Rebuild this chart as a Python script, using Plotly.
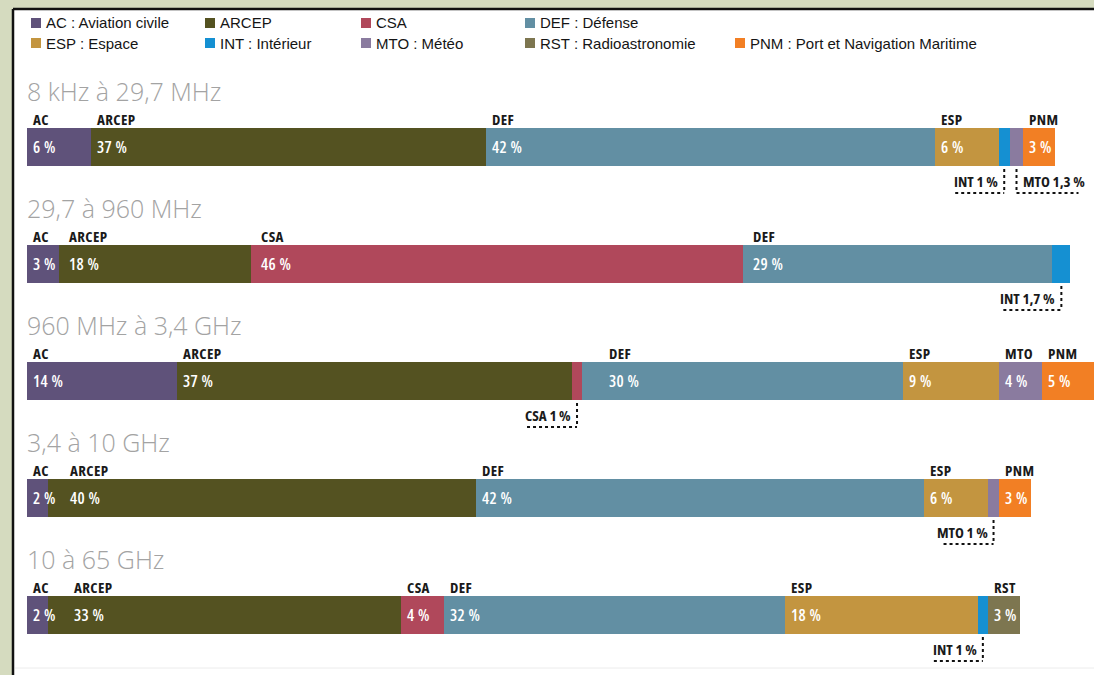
import plotly.graph_objects as go

# ---------------- data ----------------
bands = ["8 kHz à 29,7 MHz", "29,7 à 960 MHz", "960 MHz à 3,4 GHz", "3,4 à 10 GHz", "10 à 65 GHz"]
agencies = ["AC", "ARCEP", "CSA", "DEF", "ESP", "INT", "MTO", "RST", "PNM"]
legend_names = ["AC : Aviation civile", "ARCEP", "CSA", "DEF : Défense", "ESP : Espace",
                "INT : Intérieur", "MTO : Météo", "RST : Radioastronomie",
                "PNM : Port et Navigation Maritime"]
AC = [6, 3, 14, 2, 2]
ARCEP = [37, 18, 37, 40, 33]
CSA = [0, 46, 1, 0, 4]
DEF = [42, 29, 30, 42, 32]
ESP = [6, 0, 9, 6, 18]
INT = [1, 1.7, 0, 0, 1]
MTO = [1.3, 0, 4, 1, 0]
RST = [0, 0, 0, 0, 3]
PNM = [3, 0, 5, 3, 0]
values = {"AC": AC, "ARCEP": ARCEP, "CSA": CSA, "DEF": DEF, "ESP": ESP,
          "INT": INT, "MTO": MTO, "RST": RST, "PNM": PNM}

# ---------------- styles ----------------
colors = {"AC": "#5f527a", "ARCEP": "#545221", "CSA": "#b0485b", "DEF": "#628fa3",
          "ESP": "#c39540", "INT": "#1590d2", "MTO": "#8a7b9f", "RST": "#7d7650",
          "PNM": "#f27f24"}
W, H = 1094, 675
X0 = 27            # pixel where 0 % starts
PX_PER_PCT = 10.68
ROW0, ROW_STEP = 147, 117
label_offset = {(1, "ARCEP"): 8, (1, "CSA"): 8, (1, "DEF"): 8, (2, "DEF"): 25,
                (3, "ARCEP"): 20, (4, "ARCEP"): 24}
callout_right = {(0, "MTO")}
callout_textw = {"INT 1 %": 43, "MTO 1,3 %": 56, "INT 1,7 %": 52, "CSA 1 %": 44, "MTO 1 %": 44}
cond = "Open Sans, Roboto, sans-serif"

def narrow(t, ls=0.4):
    return '<span style="font-stretch:75%;letter-spacing:' + str(ls) + 'px">' + t + '</span>'

def fmt(v):
    return ("%g" % v).replace(".", ",") + " %"

rows = list(range(len(bands)))
fig = go.Figure()
for a in agencies:
    fig.add_trace(go.Bar(orientation="h", y=rows, x=values[a], width=0.325,
                         marker=dict(color=colors[a], line=dict(width=0)),
                         hoverinfo="skip", showlegend=False, name=a))

ann = []
shapes = []
# panel frame
shapes.append(dict(type="rect", xref="paper", yref="paper", x0=0, x1=1, y0=0, y1=1,
                   fillcolor="#d5dbbf", line=dict(width=0), layer="below"))
shapes.append(dict(type="rect", xref="paper", yref="paper", x0=13 / W, x1=1, y0=0,
                   y1=1 - 9 / H, fillcolor="white", line=dict(width=0), layer="below"))
shapes.append(dict(type="line", xref="paper", yref="paper", x0=13 / W, x1=1,
                   y0=1 - 9 / H, y1=1 - 9 / H, line=dict(color="#111", width=2.5), layer="below"))
shapes.append(dict(type="line", xref="paper", yref="paper", x0=13 / W, x1=13 / W,
                   y0=0, y1=1 - 9 / H, line=dict(color="#111", width=2.5), layer="below"))
shapes.append(dict(type="line", xref="paper", yref="paper", x0=15 / W, x1=1,
                   y0=1 - 668 / H, y1=1 - 668 / H, line=dict(color="#ececec", width=1), layer="below"))

# legend
leg_cols = [31, 205, 361, 525, 735]
leg_pos = [(0, 0), (0, 1), (0, 2), (0, 3), (1, 0), (1, 1), (1, 2), (1, 3), (1, 4)]
for a, name, (r, c) in zip(agencies, legend_names, leg_pos):
    yc = 23 + 20 * r
    x = leg_cols[c]
    shapes.append(dict(type="rect", xref="paper", yref="paper", x0=x / W, x1=(x + 10) / W,
                       y0=1 - (yc + 5) / H, y1=1 - (yc - 5) / H,
                       fillcolor=colors[a], line=dict(width=0)))
    ann.append(dict(xref="paper", yref="paper", x=(x + 13) / W, y=1 - yc / H, text=name,
                    showarrow=False, xanchor="left", yanchor="middle",
                    font=dict(family="Liberation Sans, Arial, sans-serif", size=15, color="#151515")))

for i in rows:
    ann.append(dict(x=0, y=i, xref="x", yref="y", text=bands[i], showarrow=False,
                    xanchor="left", yanchor="middle", yshift=56, xshift=-2,
                    font=dict(family="Open Sans, Lato, sans-serif", size=25, color="#a3a3a3", weight=300)))
    start = 0.0
    for a in agencies:
        v = values[a][i]
        if v <= 0:
            continue
        if v >= 2:
            off = label_offset.get((i, a), 4)
            ann.append(dict(x=start, y=i, xref="x", yref="y", text=narrow(a), showarrow=False,
                            xanchor="left", yanchor="middle", xshift=off, yshift=28,
                            font=dict(family=cond, size=15, color="#1a1a1a", weight=700)))
            ann.append(dict(x=start, y=i, xref="x", yref="y", text=narrow(fmt(v)), showarrow=False,
                            xanchor="left", yanchor="middle", xshift=off, yshift=0,
                            font=dict(family=cond, size=16, color="white", weight=600)))
        else:
            cx = start + v / 2
            txt = a + " " + fmt(v)
            tw = callout_textw.get(txt, 50)
            right = (i, a) in callout_right
            shapes.append(dict(type="line", xref="x", yref="y", xsizemode="pixel", ysizemode="pixel",
                               xanchor=cx, yanchor=i, x0=0, x1=0, y0=-22, y1=-46,
                               line=dict(color="#111", width=2, dash="dot")))
            if right:
                x0p, x1p = 0, tw + 6
            else:
                x0p, x1p = -(tw + 6), 0
            shapes.append(dict(type="line", xref="x", yref="y", xsizemode="pixel", ysizemode="pixel",
                               xanchor=cx, yanchor=i, x0=x0p, x1=x1p, y0=-46, y1=-46,
                               line=dict(color="#111", width=2, dash="dot")))
            ann.append(dict(x=cx, y=i, xref="x", yref="y", text=narrow(txt, 0), showarrow=False,
                            xanchor="left" if right else "right", yanchor="middle",
                            xshift=4 if right else -4, yshift=-34,
                            font=dict(family=cond, size=15, color="#1a1a1a", weight=700)))
        start += v

xmax = (W - X0) / PX_PER_PCT
ytop = -ROW0 / ROW_STEP
ybot = (H - ROW0) / ROW_STEP
fig.update_layout(
    width=W, height=H, margin=dict(l=0, r=0, t=0, b=0),
    paper_bgcolor="white", plot_bgcolor="rgba(0,0,0,0)",
    barmode="stack", bargap=0, showlegend=False,
    xaxis=dict(domain=[X0 / W, 1], range=[0, xmax], visible=False, fixedrange=True),
    yaxis=dict(domain=[0, 1], range=[ybot, ytop], visible=False, fixedrange=True),
    annotations=ann, shapes=shapes,
)
fig.write_html("out.html")
